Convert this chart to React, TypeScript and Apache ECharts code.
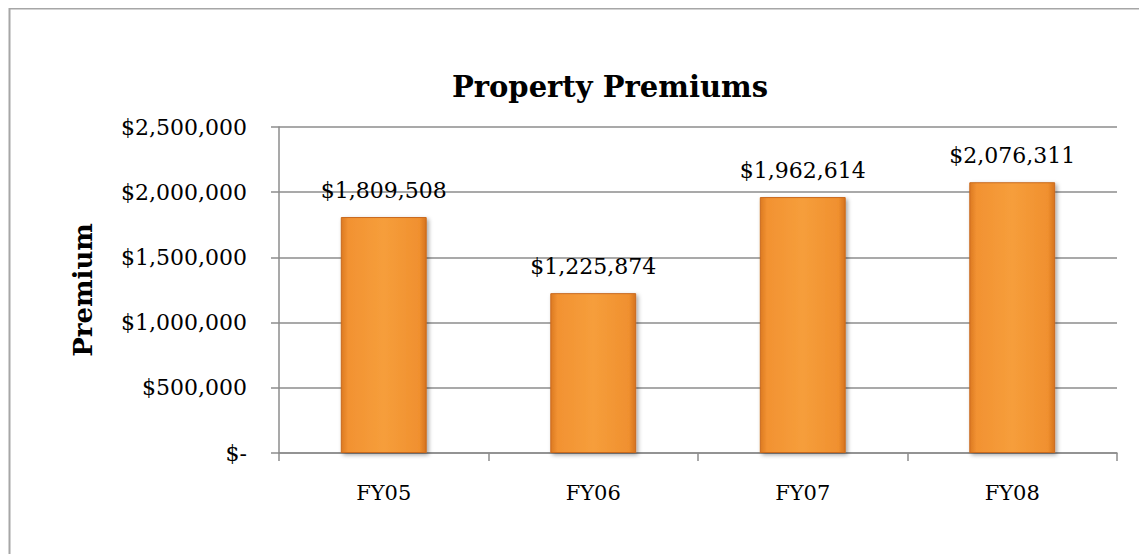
import React, { useEffect, useRef } from "react";
import * as echarts from "echarts";

const categories = ["FY05", "FY06", "FY07", "FY08"];
const premiums = [1809508, 1225874, 1962614, 2076311];
const yTicks = [0, 500000, 1000000, 1500000, 2000000, 2500000];
const titleText = "Property Premiums";
const yAxisName = "Premium";

const FONT = "'DejaVu Serif', 'Liberation Serif', serif";

function fmtMoney(v: number): string {
  if (v === 0) return "$-";
  return "$" + v.toLocaleString("en-US");
}

export default function App() {
  const ref = useRef<HTMLDivElement>(null);
  useEffect(() => {
    if (!ref.current) return;
    const chart = echarts.init(ref.current, null, { renderer: "svg" });
    chart.setOption({
      animation: false,
      backgroundColor: "#ffffff",
      graphic: [
        {
          type: "rect",
          shape: { x: 1.5, y: 0.5, width: 1300, height: 700 },
          style: { fill: "none", stroke: "#a6a6a6", lineWidth: 2 },
          z: 0,
        },
        {
          type: "text",
          x: 602,
          y: 79,
          style: {
            text: titleText,
            fontFamily: FONT,
            fontWeight: "bold",
            fontSize: 29,
            fill: "#000",
            textAlign: "center",
            textVerticalAlign: "middle",
          },
        },
      ],
      grid: { left: 271, right: 30, top: 119, bottom: 101, containLabel: false },
      xAxis: {
        type: "category",
        data: categories,
        axisLine: { show: true, lineStyle: { color: "#8c8c8c", width: 1.5 } },
        axisTick: { show: true, length: 8, alignWithLabel: false, lineStyle: { color: "#8c8c8c", width: 1.5 } },
        axisLabel: { color: "#000", fontFamily: FONT, fontSize: 21, margin: 29 },
      },
      yAxis: {
        type: "value",
        min: 0,
        max: yTicks[yTicks.length - 1],
        interval: yTicks[1] - yTicks[0],
        name: yAxisName,
        nameLocation: "middle",
        nameRotate: 90,
        nameGap: 183,
        nameTextStyle: { color: "#000", fontFamily: FONT, fontWeight: "bold", fontSize: 26 },
        axisLine: { show: true, lineStyle: { color: "#8c8c8c", width: 1.5 } },
        axisTick: { show: true, length: 8, lineStyle: { color: "#8c8c8c", width: 1.5 } },
        splitLine: { show: true, lineStyle: { color: "#8c8c8c", width: 1.5 } },
        axisLabel: {
          color: "#000",
          fontFamily: FONT,
          fontSize: 22,
          margin: 32,
          formatter: (v: number) => fmtMoney(v),
        },
      },
      series: [
        {
          type: "bar",
          data: premiums,
          barWidth: "41%",
          itemStyle: {
            color: new echarts.graphic.LinearGradient(0, 0, 1, 0, [
              { offset: 0, color: "#dc7a22" },
              { offset: 0.08, color: "#f29232" },
              { offset: 0.5, color: "#f69e3b" },
              { offset: 0.92, color: "#f0902f" },
              { offset: 1, color: "#d5731f" },
            ]),
            borderColor: "#c9691c",
            borderWidth: 1,
            shadowColor: "rgba(0,0,0,0.35)",
            shadowBlur: 4,
            shadowOffsetX: 2,
            shadowOffsetY: 2,
          },
          label: {
            show: true,
            position: "top",
            distance: 16,
            color: "#000",
            fontFamily: FONT,
            fontSize: 22,
            formatter: (p: any) => fmtMoney(p.value),
          },
        },
      ],
    });
    return () => chart.dispose();
  }, []);
  return <div ref={ref} style={{ width: 1139, height: 546, overflow: "hidden" }} />;
}
